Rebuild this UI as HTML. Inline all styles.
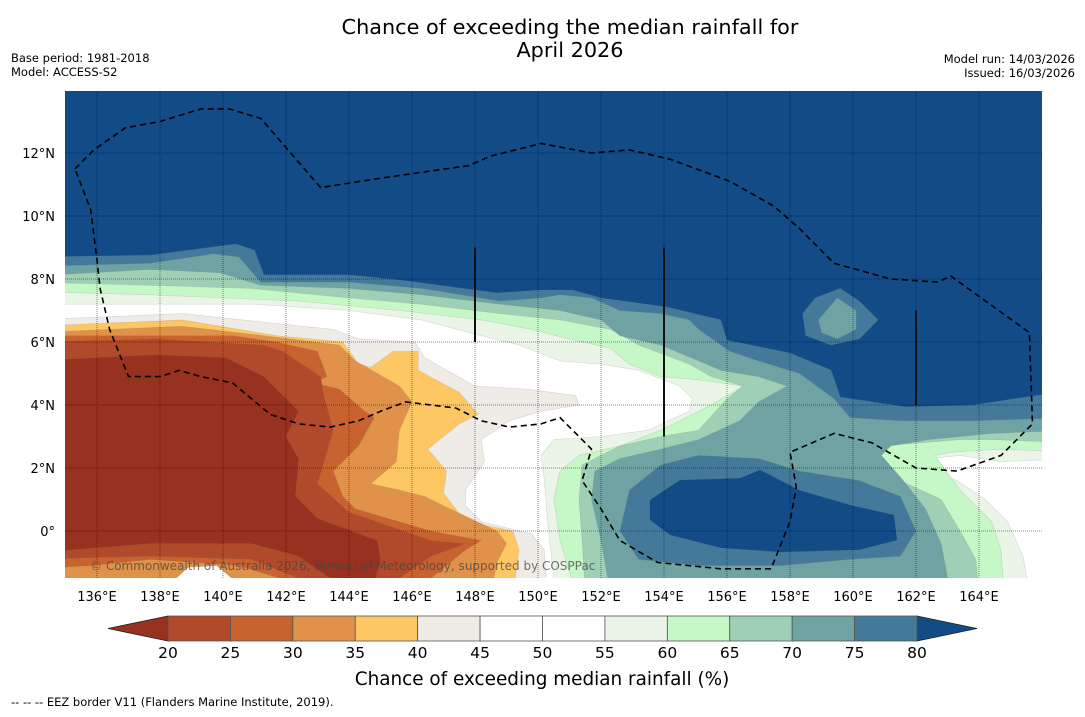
<!DOCTYPE html>
<html><head><meta charset="utf-8">
<style>
html,body{margin:0;padding:0;background:#fff;}
body{width:1085px;height:713px;overflow:hidden;font-family:"DejaVu Sans","Liberation Sans",sans-serif;}
svg text{font-family:"DejaVu Sans","Liberation Sans",sans-serif;}
</style></head>
<body>
<svg id="chart" width="1085" height="713" viewBox="0 0 1085 713" xmlns="http://www.w3.org/2000/svg">
<defs><clipPath id="mapclip"><rect x="65" y="91" width="977" height="487"/></clipPath></defs>
<text x="570" y="34" font-size="20.8" text-anchor="middle">Chance of exceeding the median rainfall for</text>
<text x="570" y="57" font-size="20.8" text-anchor="middle">April 2026</text>
<text x="11" y="62" font-size="11.5">Base period: 1981-2018</text>
<text x="11" y="76" font-size="11.5">Model: ACCESS-S2</text>
<text x="1075" y="63" font-size="11.5" text-anchor="end">Model run: 14/03/2026</text>
<text x="1075" y="77" font-size="11.5" text-anchor="end">Issued: 16/03/2026</text>
<g id="map" clip-path="url(#mapclip)"></g>
<g id="axes"></g>
<g id="cbar"></g>
<text x="542" y="685" font-size="18.4" text-anchor="middle">Chance of exceeding median rainfall (%)</text>
<text x="11" y="706" font-size="11.5">--  --  -- EEZ border V11 (Flanders Marine Institute, 2019).</text>
</svg>
<script>
// ---- data ----
const lonTicks = [136,138,140,142,144,146,148,150,152,154,156,158,160,162,164];
const latTicks = [0,2,4,6,8,10,12];
const cbarLevels = [20,25,30,35,40,45,50,55,60,65,70,75,80];
const cbarColors = ["#b04a2a","#c8622f","#e0914a","#fdc864","#efebe6","#ffffff","#ffffff","#eaf5e8","#c6f7c6","#9fcfb5","#6fa3a3","#44799a"];
const underColor = "#973220";
const overColor = "#124b85";
const ge55 = [[135,15],[167,15],[167,-2],[150.5,-2],[150.5,-1.5],[150.3,0.3],[150.2,1.6],[150.1,2.4],[150.5,2.9],[152.0,3.0],[153.5,3.2],[154.8,3.8],[154.9,4.2],[154.5,4.6],[153.2,5.1],[152.0,5.3],[150.7,5.4],[149.4,5.9],[148.2,6.2],[146.3,6.7],[144.0,7.0],[141.0,7.2],[137.7,7.2],[134,7.2]];
const whiteBlobRight = [[162.4,2.3],[163.4,2.4],[164.7,2.2],[167,2.3],[167,-2],[165.6,-2],[165.4,-0.8],[164.9,0.3],[164.2,1.0],[163.3,1.6],[162.6,1.9]];
const ge60 = [[135,15],[167,15],[167,2.5],[164.7,2.6],[163.1,2.5],[162.6,2.4],[163.4,1.3],[164.4,0.3],[164.7,-0.6],[164.8,-2],[151.2,-2],[150.7,-0.3],[150.5,1.0],[150.7,1.9],[151.3,2.4],[152.6,2.7],[153.9,3.2],[155.5,4.0],[156.5,4.6],[155.1,4.8],[153.9,4.9],[152.9,5.3],[152.3,5.8],[151.0,6.1],[149.8,6.4],[148.2,6.7],[145.6,7.0],[142.4,7.3],[137.7,7.5],[134,7.6]];
const ge65 = [[135,15],[167,15],[167,2.8],[164.4,2.9],[163.4,2.9],[160.9,2.7],[160.6,2.4],[161.5,1.6],[162.8,1.0],[163.4,0.0],[163.9,-0.9],[164.0,-2],[151.5,-2],[151.4,-0.3],[151.3,1.0],[151.4,2.1],[152.6,2.7],[153.9,3.0],[155.1,3.2],[156.0,4.2],[156.5,4.6],[155.5,4.9],[154.8,5.3],[153.2,5.9],[152.3,6.4],[150.7,6.7],[148.8,6.9],[146.3,7.2],[144.0,7.4],[140.9,7.7],[137.7,7.8],[134,7.9]];
const ge70 = [[135,15],[167,15],[167,3.2],[164.4,3.1],[162.4,2.9],[161.2,2.7],[160.9,2.4],[161.6,1.6],[162.3,0.7],[162.8,-0.4],[163.1,-2],[152.3,-2],[152.0,-0.3],[151.7,1.0],[151.8,1.9],[152.6,2.3],[153.9,2.6],[155.1,2.9],[156.4,3.5],[157.0,4.1],[157.9,4.6],[157.0,4.9],[155.8,5.1],[155.1,5.4],[153.9,5.9],[152.6,6.2],[152.0,6.7],[150.7,7.0],[148.8,7.2],[146.3,7.5],[144.0,7.7],[141.2,7.8],[139.9,8.2],[137.7,8.3],[134,8.1]];
const ge75 = [[135,15],[167,15],[167,3.6],[163.8,3.5],[161.5,3.5],[159.9,3.6],[159.4,4.2],[158.3,5.0],[157.0,5.4],[156.1,5.7],[155.1,6.4],[154.8,6.7],[153.9,6.9],[152.6,7.0],[151.7,7.4],[150.7,7.5],[150.1,7.4],[148.8,7.3],[146.3,7.7],[144.0,7.9],[141.2,7.9],[140.5,8.7],[139.7,8.8],[137.7,8.5],[134,8.4]];
const ge75ring = [[152.9,1.3],[153.9,2.1],[155.1,2.4],[157.0,2.3],[158.3,1.9],[160.2,1.6],[161.5,1.1],[162.0,0.0],[161.5,-0.8],[159.9,-0.9],[157.7,-1.1],[155.1,-1.1],[153.2,-0.9],[152.6,0.0]];
const ge80 = [[135,15],[167,15],[167,4.48],[163.8,4.0],[161.7,3.94],[159.6,4.25],[159.3,5.11],[158.0,5.65],[156.0,6.06],[155.8,6.7],[154.1,7.11],[152.0,7.4],[151.1,7.65],[150.1,7.65],[148.7,7.56],[145.6,7.97],[144.0,8.13],[141.3,8.13],[141.0,8.92],[140.4,9.11],[139.7,9.02],[137.7,8.76],[134,8.7]];
const ge80hole = [[153.55,0.98],[154.5,1.62],[156.4,1.68],[157.05,1.94],[158.3,1.3],[159.9,0.83],[161.3,0.51],[161.4,-0.29],[160.2,-0.6],[157.7,-0.67],[155.8,-0.54],[154.2,-0.13],[153.55,0.35]];
const island75 = [[158.4,6.9],[158.8,7.4],[159.6,7.7],[160.2,7.3],[160.8,6.7],[160.2,6.1],[159.3,5.9],[158.5,6.2]];
const island70 = [[158.9,6.7],[159.5,7.4],[160.1,7.0],[160.1,6.4],[159.5,6.1],[159.0,6.3]];
const le45 = [[134,6.7],[138.7,6.9],[143.5,6.4],[144.3,6.1],[146.1,6.0],[146.4,5.5],[148.0,4.6],[149.7,4.5],[151.2,4.3],[151.3,4.0],[150.1,3.8],[149.1,3.5],[148.2,2.9],[148.3,2.2],[147.7,1.3],[147.7,0.8],[148.2,0.3],[149.8,-0.1],[150.2,-0.6],[150.3,-2],[134,-2]];
const le40 = [[134,6.5],[138.7,6.7],[141.7,6.2],[143.8,6.0],[144.3,5.3],[144.7,5.2],[145.4,5.7],[146.2,5.7],[146.2,5.1],[147.5,4.4],[148.1,3.7],[147.5,3.4],[146.5,2.6],[147.1,1.9],[147.0,1.2],[147.7,0.3],[149.2,0.0],[149.4,-0.6],[149.2,-2],[134,-2]];
const le35 = [[134,6.3],[138.7,6.5],[141.3,6.2],[143.7,5.9],[144.2,5.4],[145.6,4.6],[146.0,4.1],[145.6,3.2],[145.5,2.2],[144.7,1.5],[145.6,1.3],[146.4,1.1],[147.0,0.8],[148.7,0.0],[149.0,-0.4],[148.7,-1.0],[148.5,-2],[134,-2]];
const le30 = [[134,6.2],[140.3,6.2],[141.7,6.0],[143.0,5.7],[143.3,4.9],[142.9,4.7],[143.7,4.5],[144.5,3.8],[144.8,3.6],[144.3,2.7],[143.5,1.9],[143.8,1.1],[144.2,0.7],[146.6,0.0],[148.2,-0.3],[147.7,-0.6],[146.6,-1.5],[146.6,-2],[141.8,-2],[141.8,-1.5],[140.5,-1.1],[137.7,-0.9],[135.8,-1.1],[134,-1.2]];
const le25 = [[134,6.0],[137.9,6.1],[141.3,5.9],[141.9,5.7],[143.1,4.9],[143.2,4.3],[143.5,3.2],[143.0,1.5],[144.0,0.6],[146.6,-0.3],[147.7,-0.4],[146.6,-0.8],[145.6,-1.5],[145.6,-2],[142.4,-2],[142.4,-1.5],[140.9,-0.9],[137.7,-0.8],[134,-0.9]];
const le20 = [[134,5.4],[137.9,5.6],[140.1,5.5],[141.3,4.9],[142.4,3.8],[142.0,3.0],[142.4,2.3],[142.3,1.1],[143.0,0.4],[144.9,-0.3],[145.0,-0.9],[144.7,-2],[143.4,-2],[143.4,-1.5],[142.4,-0.8],[140.9,-0.4],[137.7,-0.4],[134,-0.7]];
const whiteBlobLeft = [[138.4,-1.6],[138.9,-1.15],[139.8,-1.1],[140.4,-1.6]];
const eez = [[135.3,11.5],[135.9,12.1],[136.9,12.8],[138.0,13.0],[139.3,13.4],[140.2,13.4],[141.2,13.1],[143.1,10.9],[145.0,11.2],[147.8,11.6],[148.5,11.9],[150.1,12.3],[151.7,12.0],[152.9,12.1],[154.2,11.8],[156.1,11.1],[157.5,10.3],[158.3,9.6],[159.4,8.5],[161.2,8.0],[162.7,7.9],[163.1,8.1],[165.6,6.3],[165.7,3.4],[164.7,2.4],[163.3,1.9],[162.0,2.0],[160.6,2.8],[159.4,3.1],[158.0,2.5],[158.2,1.4],[158.0,0.3],[157.4,-1.2],[155.8,-1.2],[153.8,-1.0],[152.6,-0.3],[152.0,0.7],[151.4,1.6],[151.7,2.6],[150.7,3.6],[150.1,3.4],[149.1,3.3],[148.2,3.5],[147.4,3.9],[146.6,4.0],[145.8,4.1],[145.0,3.8],[144.3,3.5],[143.4,3.3],[142.4,3.4],[141.5,3.7],[140.9,4.2],[140.3,4.7],[139.3,4.9],[138.6,5.1],[138.0,4.9],[137.0,4.9],[136.4,6.4],[136.1,7.7],[136.0,8.6],[135.8,10.2],[135.3,11.5]];
const dataLines = [[148,9.0,6.0],[154,9.0,3.0],[162,7.0,4.0]];

// ---- axes ----
const X = lon => 65.5 + (lon-135)*31.5;
const Y = lat => 531 - lat*31.5;
const CX = v => 168 + (v-20)/(80-20)*749;
const NS = "http://www.w3.org/2000/svg";
function mk(tag, parent){ const e=document.createElementNS(NS,tag); parent.appendChild(e); return e; }
const map = document.getElementById('map');
const axes = document.getElementById('axes');
const cbar = document.getElementById('cbar');
function pts(arr){ return arr.map(p=>X(p[0]).toFixed(1)+','+Y(p[1]).toFixed(1)).join(' '); }
const bg = mk('rect', map);


bg.setAttribute('x',65); bg.setAttribute('y',91); bg.setAttribute('width',977); bg.setAttribute('height',487); bg.setAttribute('fill','#ffffff');
const layers = [
  ['band-ge55',ge55,cbarColors[7]],['blob-white-right',whiteBlobRight,'#ffffff'],
  ['band-ge60',ge60,cbarColors[8]],['band-ge65',ge65,cbarColors[9]],['band-ge70',ge70,cbarColors[10]],
  ['band-ge75',ge75,cbarColors[11]],['band-ge75-ring',ge75ring,cbarColors[11]],
  ['band-ge80',ge80,overColor],['band-ge80-hole',ge80hole,overColor],
  ['island-ge75',island75,cbarColors[11]],['island-ge70',island70,cbarColors[10]],
  ['band-le45',le45,cbarColors[4]],['band-le40',le40,cbarColors[3]],['band-le35',le35,cbarColors[2]],
  ['blob-white-left',whiteBlobLeft,'#ffffff'],
  ['band-le30',le30,cbarColors[1]],['band-le25',le25,cbarColors[0]],['band-le20',le20,underColor]
];
layers.forEach(l=>{
  const p = mk('polygon', map);
  
  
  p.setAttribute('points', pts(l[1]));
  p.setAttribute('fill', l[2]);
  p.setAttribute('stroke', 'rgba(120,120,120,0.25)');
  p.setAttribute('stroke-width', '0.6');
  p.setAttribute('stroke-linejoin','round');
});
dataLines.forEach(d=>{
  const ln = mk('line', map);
  
  
  ln.setAttribute('x1',X(d[0])); ln.setAttribute('x2',X(d[0]));
  ln.setAttribute('y1',Y(d[1])); ln.setAttribute('y2',Y(d[2]));
  ln.setAttribute('stroke','#111'); ln.setAttribute('stroke-width','2');
});
lonTicks.forEach(t=>{
  const g = mk('line', map);
  
  
  g.setAttribute('x1',X(t)); g.setAttribute('x2',X(t)); g.setAttribute('y1',91); g.setAttribute('y2',578);
  g.setAttribute('stroke','rgba(0,0,0,0.45)'); g.setAttribute('stroke-width','1'); g.setAttribute('stroke-dasharray','1,1');
  const tx = mk('text', axes);
  
  
  tx.setAttribute('x',X(t)); tx.setAttribute('y',601); tx.setAttribute('font-size','13'); tx.setAttribute('text-anchor','middle');
  tx.textContent = t+'°E';
});
latTicks.forEach(t=>{
  const g = mk('line', map);
  
  
  g.setAttribute('x1',65); g.setAttribute('x2',1042); g.setAttribute('y1',Y(t)); g.setAttribute('y2',Y(t));
  g.setAttribute('stroke','rgba(0,0,0,0.45)'); g.setAttribute('stroke-width','1'); g.setAttribute('stroke-dasharray','1,1');
  const tx = mk('text', axes);
  
  
  tx.setAttribute('x',55); tx.setAttribute('y',Y(t)+5); tx.setAttribute('font-size','13'); tx.setAttribute('text-anchor','end');
  tx.textContent = t===0 ? '0°' : t+'°N';
});
const ez = mk('polyline', map);


ez.setAttribute('points', pts(eez));
ez.setAttribute('fill','none'); ez.setAttribute('stroke','#000'); ez.setAttribute('stroke-width','1.6'); ez.setAttribute('stroke-dasharray','6,4');
const cr = mk('text', map);


cr.setAttribute('x',90); cr.setAttribute('y',570); cr.setAttribute('font-size','12'); cr.setAttribute('fill','rgba(70,70,70,0.75)');
cr.textContent = '© Commonwealth of Australia 2026, Bureau of Meteorology, supported by COSPPac';

// ---- colorbar ----
const cy0 = 616, cy1 = 641, cym = 628.5;
const tl = mk('polygon', cbar);


tl.setAttribute('points', CX(20)+','+cy0+' '+(CX(20)-60)+','+cym+' '+CX(20)+','+cy1);
tl.setAttribute('fill',underColor); tl.setAttribute('stroke','#222'); tl.setAttribute('stroke-width','0.8');
const tr = mk('polygon', cbar);


tr.setAttribute('points', CX(80)+','+cy0+' '+(CX(80)+60)+','+cym+' '+CX(80)+','+cy1);
tr.setAttribute('fill',overColor); tr.setAttribute('stroke','#222'); tr.setAttribute('stroke-width','0.8');
for(let i=0;i<cbarColors.length;i++){
  const r = mk('rect', cbar);
  
  
  r.setAttribute('x',CX(cbarLevels[i])); r.setAttribute('y',cy0);
  r.setAttribute('width',CX(cbarLevels[i+1])-CX(cbarLevels[i])); r.setAttribute('height',cy1-cy0);
  r.setAttribute('fill',cbarColors[i]); r.setAttribute('stroke','#555'); r.setAttribute('stroke-width','0.8');
}
cbarLevels.forEach(v=>{
  const t = mk('text', cbar);
  
  
  t.setAttribute('x',CX(v)); t.setAttribute('y',658); t.setAttribute('font-size','15.5'); t.setAttribute('text-anchor','middle');
  t.textContent = v;
});
</script>
</body></html>
